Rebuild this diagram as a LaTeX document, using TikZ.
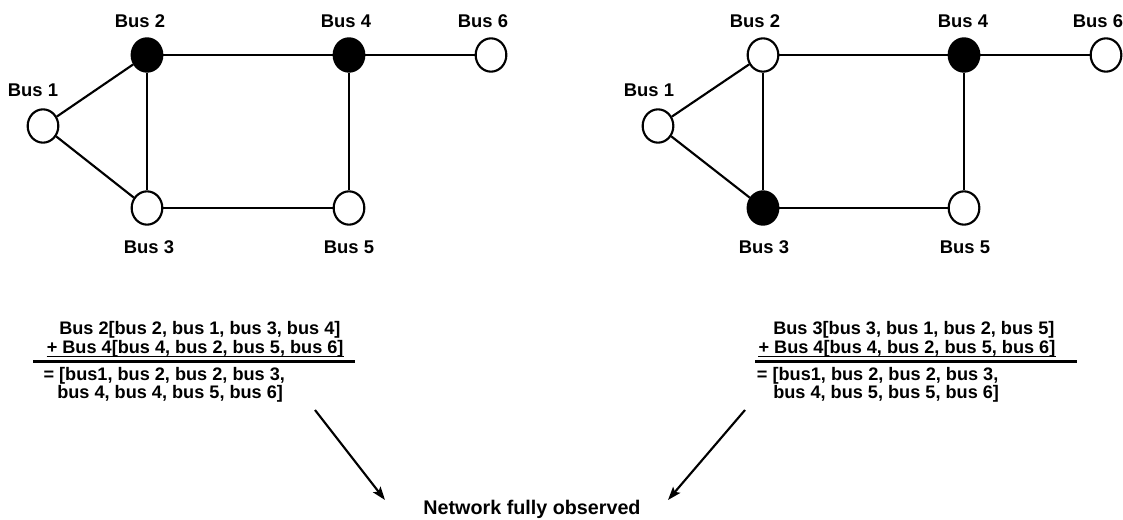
\documentclass[tikz,border=0pt]{standalone}
\usepackage{fontspec}
\setmainfont{Liberation Sans}
\usetikzlibrary{arrows.meta,shapes.geometric}
\begin{document}
\begin{tikzpicture}[x=0.75pt,y=-0.75pt,
  bus/.style={ellipse,draw,line width=1.6pt,minimum width=23pt,minimum height=25pt,inner sep=0pt,fill=white},
  obs/.style={bus,fill=black},
  lbl/.style={font=\fontsize{13.8pt}{16pt}\selectfont\bfseries,inner sep=0pt,anchor=base},
  txt/.style={font=\fontsize{13.6pt}{16pt}\selectfont\bfseries,inner sep=0pt,anchor=base west},
  edge/.style={line width=1.6pt},
  arr/.style={line width=1.6pt,-{Stealth[length=10pt,width=7pt,inset=2pt]}}]
\useasboundingbox (0,0) rectangle (1123,520);
% left graph
\node[bus] (b1) at (43,126) {};
\node[obs] (b2) at (147,55) {};
\node[bus] (b3) at (147,208) {};
\node[obs] (b4) at (349,55) {};
\node[bus] (b5) at (349,208) {};
\node[bus] (b6) at (491,55) {};
\draw[edge] (b1) -- (b2);
\draw[edge] (b1) -- (b3);
\draw[edge] (b2) -- (b3);
\draw[edge] (b2) -- (b4);
\draw[edge] (b3) -- (b5);
\draw[edge] (b4) -- (b5);
\draw[edge] (b4) -- (b6);
\node[lbl] (lb1) at (33,97) {Bus 1};
\node[lbl] (lb2) at (140,28) {Bus 2};
\node[lbl] (lb3) at (149,253) {Bus 3};
\node[lbl] (lb4) at (346,28) {Bus 4};
\node[lbl] (lb5) at (349,253) {Bus 5};
\node[lbl] (lb6) at (483,28) {Bus 6};
% right graph
\node[bus] (c1) at (658,126) {};
\node[bus] (c2) at (763,55) {};
\node[obs] (c3) at (763,208) {};
\node[obs] (c4) at (964,55) {};
\node[bus] (c5) at (964,208) {};
\node[bus] (c6) at (1106,55) {};
\draw[edge] (c1) -- (c2);
\draw[edge] (c1) -- (c3);
\draw[edge] (c2) -- (c3);
\draw[edge] (c2) -- (c4);
\draw[edge] (c3) -- (c5);
\draw[edge] (c4) -- (c5);
\draw[edge] (c4) -- (c6);
\node[lbl] (lc1) at (649,97) {Bus 1};
\node[lbl] (lc2) at (755,28) {Bus 2};
\node[lbl] (lc3) at (764,253) {Bus 3};
\node[lbl] (lc4) at (963,28) {Bus 4};
\node[lbl] (lc5) at (965,253) {Bus 5};
\node[lbl] (lc6) at (1098,28) {Bus 6};
% left sum
\node[txt] (l1) at (59,334) {Bus 2[bus 2, bus 1, bus 3, bus 4]};
\node[txt] (l2) at (46.5,353) {+ Bus 4[bus 4, bus 2, bus 5, bus 6]};
\draw[line width=0.8pt] ([yshift=-2.6pt]l2.base west) -- ([yshift=-2.6pt]l2.base east);
\coordinate (lr1) at (33,361.5);
\coordinate (lr2) at (355,361.5);
\draw[line width=1.6pt] (lr1) -- (lr2);
\node[txt] (l3) at (43.3,380) {= [bus1, bus 2, bus 2, bus 3,};
\node[txt] (l4) at (57,398) {bus 4, bus 4, bus 5, bus 6]};
% right sum
\node[txt] (r1) at (773,334) {Bus 3[bus 3, bus 1, bus 2, bus 5]};
\node[txt] (r2) at (758.3,353) {+ Bus 4[bus 4, bus 2, bus 5, bus 6]};
\draw[line width=0.8pt] ([yshift=-2.6pt]r2.base west) -- ([yshift=-2.6pt]r2.base east);
\coordinate (rr1) at (755,361.5);
\coordinate (rr2) at (1077,361.5);
\draw[line width=1.6pt] (rr1) -- (rr2);
\node[txt] (r3) at (756.7,380) {= [bus1, bus 2, bus 2, bus 3,};
\node[txt] (r4) at (773,398) {bus 4, bus 5, bus 5, bus 6]};
% result
\node[lbl,font=\fontsize{14.8pt}{17pt}\selectfont\bfseries] (net) at (532,514) {Network fully observed};
\coordinate (a1s) at (315,410);
\coordinate (a1e) at (385,500);
\coordinate (a2s) at (745,410);
\coordinate (a2e) at (668,500);
\draw[arr] (a1s) -- (a1e);
\draw[arr] (a2s) -- (a2e);
\end{tikzpicture}
\end{document}
